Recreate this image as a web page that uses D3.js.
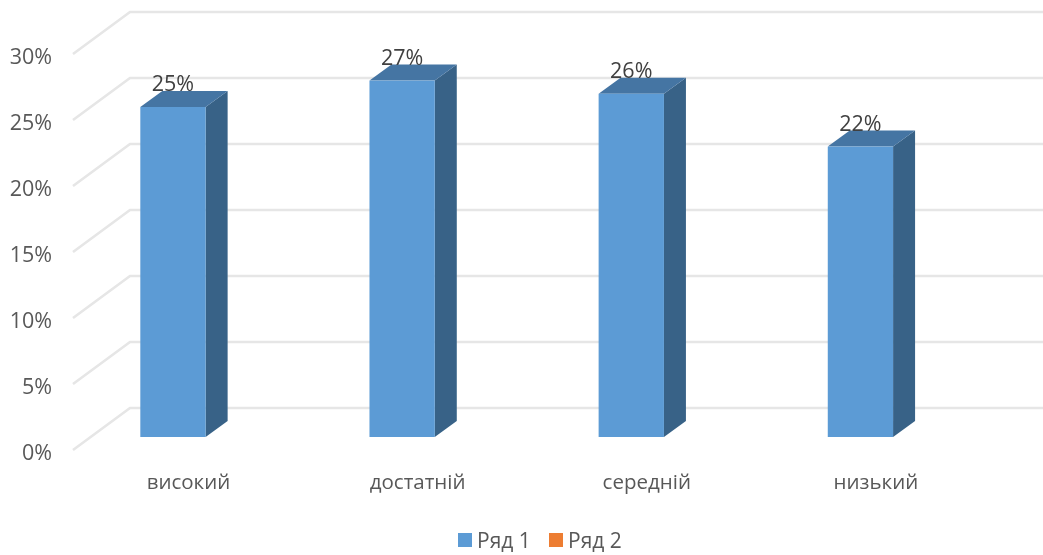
<!DOCTYPE html>
<html><head><meta charset="utf-8">
<script src="https://cdn.jsdelivr.net/npm/d3@7"></script>
<style>html,body{margin:0;background:#fff}svg{display:block}text{font-family:"Open Sans",sans-serif}</style>
</head><body><svg id="c" width="1043" height="555"></svg>
<script>
(function(){
const categories=["високий","достатній","середній","низький"];
const series1=[25,27,26,22];
const seriesNames=["Ряд 1","Ряд 2"];
const seriesColors=["#5b9bd5","#ed7d31"];
const yTicks=[0,5,10,15,20,25,30];
const W=1043;
const svg=d3.select("#c");
const defs=svg.append("defs");
defs.append("filter").attr("id","soft").append("feGaussianBlur").attr("stdDeviation",0.6);
defs.append("filter").attr("id","soft2").append("feGaussianBlur").attr("stdDeviation",0.35);
const y=d3.scaleLinear().domain([0,30]).range([450,54]);
const x=d3.scaleBand().domain(categories).range([58.4,975]).paddingInner(0.715).paddingOuter(0.3575);
const back={dx:57,dy:-42}, floorDy=-13, depth={dx:22,dy:-16};
const root=svg.append("g").attr("filter","url(#soft)");
const grid=root.append("g").attr("fill","none").attr("stroke","#e6e6e6").attr("stroke-width",2.6);
grid.selectAll("path").data(yTicks).join("path")
 .attr("d",d=>`M73,${y(d)}L${73+back.dx},${y(d)+back.dy}L${W+5},${y(d)+back.dy}`);
const bars=root.append("g").selectAll("g").data(series1).join("g");
const X=(d,i)=>x(categories[i]), B=x.bandwidth();
const Y0=y(0)+floorDy;
const barTop=d=>y(d)+floorDy;
bars.append("path").attr("fill","#376287").attr("d",(d,i)=>{const r=X(d,i)+B;return `M${r},${barTop(d)}L${r+depth.dx},${barTop(d)+depth.dy}L${r+depth.dx},${Y0+depth.dy}L${r},${Y0}Z`;});
bars.append("path").attr("fill","#4474a3").attr("d",(d,i)=>{const l=X(d,i);return `M${l},${barTop(d)}L${l+depth.dx},${barTop(d)+depth.dy}L${l+B+depth.dx},${barTop(d)+depth.dy}L${l+B},${barTop(d)}Z`;});
bars.append("rect").attr("fill",seriesColors[0]).attr("x",X).attr("y",barTop).attr("width",B).attr("height",d=>Y0-barTop(d));
const txt=svg.append("g").attr("filter","url(#soft2)");
txt.selectAll(".v").data(series1).join("text").attr("class","v")
 .attr("x",(d,i)=>X(d,i)+B/2).attr("y",d=>barTop(d)-16).attr("text-anchor","middle")
 .attr("font-size",21.5).attr("fill","#404040").text(d=>d+"%");
txt.selectAll(".yl").data(yTicks).join("text").attr("class","yl")
 .attr("x",52).attr("y",d=>y(d)+9.5).attr("text-anchor","end")
 .attr("font-size",21.5).attr("fill","#595959").text(d=>d+"%");
txt.selectAll(".xl").data(categories).join("text").attr("class","xl")
 .attr("x",d=>x(d)+B/2+15.5).attr("y",488.5).attr("text-anchor","middle")
 .attr("font-size",20.5).attr("fill","#595959").text(d=>d);
const lx=[458,549];
const leg=txt.selectAll(".lg").data(seriesNames).join("g").attr("class","lg");
leg.append("rect").attr("x",(d,i)=>lx[i]).attr("y",533).attr("width",14).attr("height",14).attr("fill",(d,i)=>seriesColors[i]);
leg.append("text").attr("x",(d,i)=>lx[i]+19).attr("y",548).attr("font-size",21).attr("fill","#595959").text(d=>d);
})();
</script></body></html>
